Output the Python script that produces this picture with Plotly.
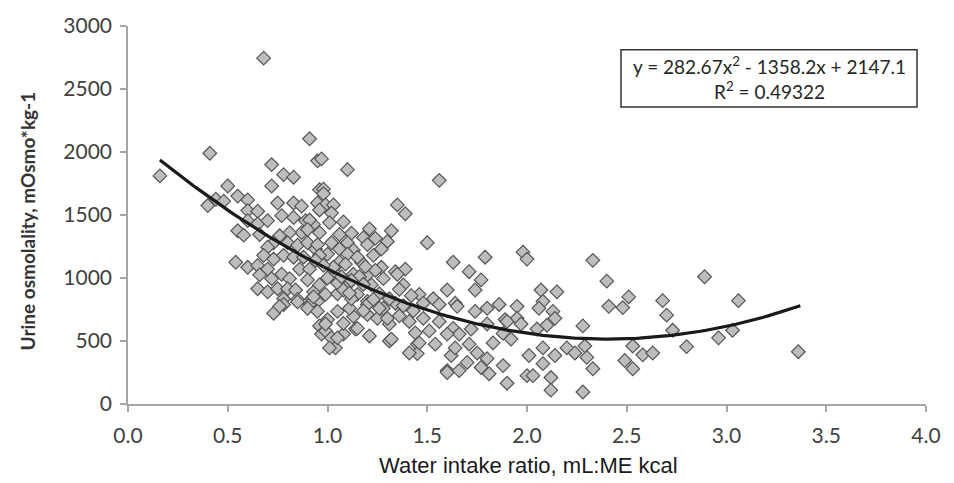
import plotly.graph_objects as go
import numpy as np

# Scatter data (water intake ratio, urine osmolality)
water_ratio = [
    0.16, 0.41, 0.40, 0.44, 0.50, 0.48, 0.55, 0.60, 0.60, 0.65, 0.55, 0.58, 0.60, 0.65, 0.66, 0.70,
    0.72, 0.72, 0.78, 0.83, 0.75, 0.83, 0.87, 0.77, 0.83, 0.89, 0.93, 0.87, 0.81, 0.76, 0.73, 0.70,
    0.80, 0.85, 0.90, 0.94, 0.68, 0.73, 0.78, 0.83, 0.88, 0.54, 0.60, 0.65, 0.70, 0.66, 0.72, 0.77,
    0.81, 0.86, 0.91, 0.90, 0.65, 0.70, 0.75, 0.80, 0.84, 0.93, 0.85, 0.78, 0.78, 0.73, 0.92, 0.95,
    0.96, 0.97, 0.95, 0.95, 0.96, 0.68, 0.91, 0.76, 0.85, 0.91, 1.00, 0.99, 1.02, 1.04, 1.08, 1.13,
    0.97, 1.10, 1.56, 0.98, 0.98, 0.99, 1.03, 1.02, 0.96, 1.35, 1.39, 1.08, 0.91, 0.90, 1.01, 1.12,
    1.21, 1.18, 1.24, 1.32, 1.06, 0.96, 0.95, 1.02, 1.10, 1.30, 1.50, 1.06, 1.00, 1.13, 1.23, 1.27,
    0.96, 0.94, 1.06, 1.17, 1.27, 1.34, 1.39, 1.63, 1.13, 1.20, 1.03,
    0.96, 1.03, 1.10, 1.16, 1.22, 1.28, 1.35, 1.38, 1.60, 1.46, 1.53, 1.64, 0.93, 0.99, 1.05, 1.15,
    1.20, 1.28, 1.34, 0.90, 0.95, 1.05, 1.11, 1.20, 1.25, 1.31, 1.41, 1.48, 1.56, 1.63, 0.99, 1.14,
    1.21, 1.31, 1.44, 1.45, 1.54, 1.05, 1.01, 1.62, 1.60, 1.45,
    1.12, 1.20, 1.26, 1.30, 1.32, 1.15, 1.31, 1.03, 1.10, 1.20,
    1.79, 1.98, 2.00, 1.71, 1.77, 1.74, 1.56, 1.65, 1.74, 1.80, 1.86, 1.95, 1.89, 1.95, 1.80, 1.72,
    1.66, 1.60, 1.51, 1.46, 1.41, 1.64, 1.71, 1.75, 1.83, 1.80, 1.88, 1.77, 1.81, 1.70, 1.66, 1.60,
    1.90, 2.00,
    2.33, 2.40, 2.07, 2.15, 2.51, 2.68, 2.89, 2.08, 2.41, 2.48, 2.13, 2.70, 2.14, 1.90, 1.97, 2.28,
    2.10, 2.05, 2.73, 1.88, 1.92, 2.20, 2.29, 2.08, 2.53, 2.80, 2.01, 2.14, 2.30, 2.58, 2.63, 2.24,
    2.08, 2.49, 2.53, 2.33, 2.03, 2.12, 2.12, 2.28, 2.06,
    3.06, 3.03, 2.96, 3.36,
    1.05, 1.08, 1.12, 1.18, 1.24, 1.09, 1.15, 1.00, 0.98, 1.07, 1.19, 1.26, 1.36, 1.42, 1.38, 1.43,
    1.48, 1.36, 1.18, 1.08, 1.23, 1.11,
]
urine_osmolality = [
    1810, 1990, 1575, 1625, 1730, 1610, 1650, 1620, 1535, 1530, 1375, 1340, 1455, 1430, 1345, 1455,
    1730, 1900, 1820, 1800, 1595, 1595, 1570, 1495, 1480, 1455, 1425, 1360, 1360, 1335, 1280, 1245,
    1280, 1260, 1280, 1230, 1180, 1150, 1180, 1165, 1165, 1125, 1085, 1100, 1070, 1025, 995, 1030,
    995, 1070, 1070, 985, 915, 890, 915, 915, 905, 890, 830, 835, 790, 720, 835, 815,
    620, 555, 1595, 1930, 1700, 2745, 2105, 775, 810, 790, 670, 580, 525, 445, 555, 695,
    1945, 1860, 1775, 1705, 1670, 1580, 1580, 1515, 1540, 1580, 1510, 1445, 1460, 1385, 1440, 1355,
    1390, 1320, 1315, 1375, 1345, 1360, 1265, 1280, 1280, 1290, 1280, 1230, 1190, 1220, 1180, 1230,
    1180, 1140, 1125, 1125, 1085, 1050, 1070, 1125, 1030, 1025, 1050,
    945, 1010, 945, 1010, 945, 995, 1030, 945, 905, 870, 835, 800, 850, 870, 875, 870,
    815, 760, 800, 760, 735, 735, 760, 710, 680, 635, 655, 680, 655, 600, 635, 595,
    540, 500, 565, 475, 475, 525, 445, 385, 265, 400,
    835, 790, 760, 680, 515, 600, 835, 1085, 1190, 1265,
    1165, 1205, 1150, 1050, 985, 905, 790, 775, 735, 760, 790, 775, 670, 680, 635, 595,
    555, 555, 580, 485, 405, 445, 475, 405, 485, 360, 305, 290, 240, 330, 265, 250,
    165, 225,
    1140, 975, 905, 890, 850, 820, 1010, 815, 775, 765, 735, 705, 680, 655, 635, 620,
    625, 595, 585, 560, 515, 445, 460, 445, 460, 455, 385, 385, 370, 390, 405, 405,
    320, 345, 280, 280, 225, 210, 110, 95, 760,
    820, 585, 525, 415,
    960, 905, 980, 950, 1060, 1110, 1165, 1000, 1100, 1010, 1090, 875, 910, 860, 780, 740,
    800, 700, 740, 640, 830, 880,
]

# Polynomial trendline as printed on the chart
trend_coeffs = [282.67, -1358.2, 2147.1]
trend_range = [0.16, 3.37]

x_ticks = [0.0, 0.5, 1.0, 1.5, 2.0, 2.5, 3.0, 3.5, 4.0]
y_ticks = [0, 500, 1000, 1500, 2000, 2500, 3000]

tx = np.linspace(trend_range[0], trend_range[1], 200)
ty = np.polyval(trend_coeffs, tx)

fig = go.Figure()
fig.add_trace(go.Scatter(
    x=water_ratio, y=urine_osmolality, mode="markers",
    marker=dict(symbol="diamond", size=10.5, color="#bdbdbd",
                line=dict(color="#555555", width=1.2)),
    showlegend=False, hoverinfo="x+y",
))
fig.add_trace(go.Scatter(
    x=tx, y=ty, mode="lines", line=dict(color="#1a1a1a", width=3.2),
    showlegend=False, hoverinfo="skip",
))

axis_common = dict(
    showgrid=False, zeroline=False, showline=True, linecolor="#a6a6a6", linewidth=1.5,
    ticks="outside", ticklen=6, tickcolor="#a6a6a6", tickwidth=1.5,
    tickfont=dict(family="Lato", size=21, color="#404040"),
)

fig.update_layout(
    width=954, height=483,
    margin=dict(l=128, r=28, t=21, b=79),
    paper_bgcolor="white", plot_bgcolor="white",
    xaxis=dict(range=[0, 4], tickvals=x_ticks, ticktext=[f"{v:.1f}" for v in x_ticks],
               ticklabelstandoff=6, **axis_common),
    yaxis=dict(range=[0, 3000], tickvals=y_ticks, ticklabelstandoff=4, **axis_common),
)

px_l, px_r, px_t, px_b = 128, 926, 21, 404
def px2paper_x(p):
    return (p - px_l) / (px_r - px_l)
def px2paper_y(p):
    return (px_b - p) / (px_b - px_t)

# Axis titles
fig.add_annotation(xref="paper", yref="paper", x=px2paper_x(528), y=px2paper_y(466),
                   text="Water intake ratio, mL:ME kcal", showarrow=False,
                   xanchor="center", yanchor="middle",
                   font=dict(family="Liberation Sans Narrow, Liberation Sans", size=22, color="#1a1a1a"))
fig.add_annotation(xref="paper", yref="paper", x=px2paper_x(27), y=px2paper_y(219),
                   text="<b>Urine osmolality, mOsmo*kg-1</b>", showarrow=False, textangle=-90,
                   xanchor="center", yanchor="middle",
                   font=dict(family="Lato", size=19, color="#333333"))

# Equation box
fig.add_shape(type="rect", xref="paper", yref="paper",
              x0=px2paper_x(621), x1=px2paper_x(917), y0=px2paper_y(103), y1=px2paper_y(45),
              line=dict(color="#333333", width=1.5), fillcolor="white")
fig.add_annotation(xref="paper", yref="paper", x=px2paper_x(769), y=px2paper_y(74),
                   text="y = 282.67x<sup>2</sup> - 1358.2x + 2147.1<br>R<sup>2</sup> = 0.49322",
                   showarrow=False, align="center", xanchor="center", yanchor="middle",
                   font=dict(family="Lato", size=19, color="#262626"))

fig.write_html("out.html")
